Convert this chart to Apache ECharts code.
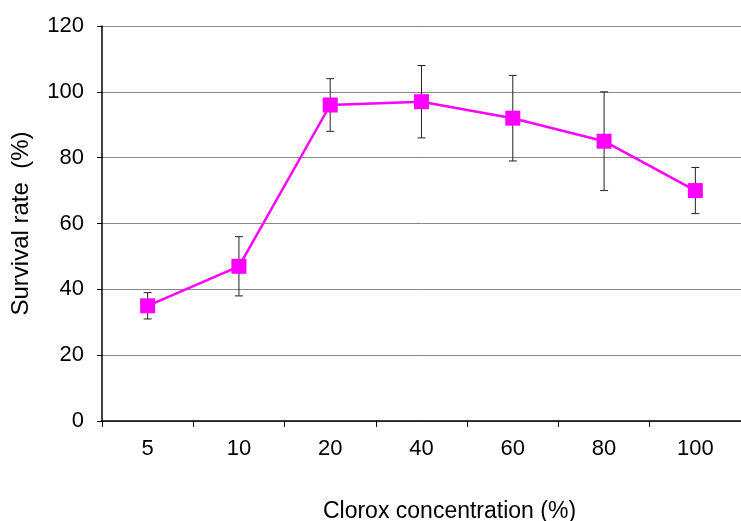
<!DOCTYPE html>
<html><head><meta charset="utf-8">
<script src="https://cdn.jsdelivr.net/npm/echarts@6/dist/echarts.min.js"></script>
<style>html,body{margin:0;padding:0;background:#fff}#c{width:741px;height:521px}</style>
</head><body><div id="c"></div>
<script>
var categories = ['5','10','20','40','60','80','100'];
var survival = [35, 47, 96, 97, 92, 85, 70];
var errors = [4, 9, 8, 11, 13, 15, 7];
var yTicks = [0, 20, 40, 60, 80, 100, 120];

var errData = categories.map(function(c, i){ return [i, survival[i] - errors[i], survival[i] + errors[i]]; });

var chart = echarts.init(document.getElementById('c'), null, {renderer:'canvas'});
chart.setOption({
  animation:false,
  backgroundColor:'#fff',
  textStyle:{fontFamily:'Liberation Sans, Arial, sans-serif'},
  grid:{left:102, right:0, top:26, bottom:100, containLabel:false, outerBoundsMode:'none'},
  xAxis:{
    type:'category', data:categories, boundaryGap:true,
    name:'Clorox concentration (%)', nameLocation:'middle', nameGap:79,
    nameTextStyle:{fontSize:23, color:'#000', fontFamily:'Liberation Sans', padding:[0,0,0,56]},
    axisLine:{lineStyle:{color:'#000', width:1.5}},
    axisTick:{show:true, length:6, lineStyle:{color:'#000'}},
    axisLabel:{fontSize:22, color:'#000', margin:17, fontFamily:'Liberation Sans'},
    splitLine:{show:false}
  },
  yAxis:{
    type:'value', min:0, max:120, interval:20,
    name:'Survival rate  (%)', nameLocation:'middle', nameGap:65,
    nameTextStyle:{fontSize:24, color:'#000', fontFamily:'Liberation Sans', padding:[0,0,4,0]},
    axisLine:{show:true, lineStyle:{color:'#000', width:1.5}},
    axisTick:{show:true, length:5, lineStyle:{color:'#000'}},
    axisLabel:{fontSize:22, color:'#000', margin:18, fontFamily:'Liberation Sans',
      formatter:function(v){ return yTicks.indexOf(v) >= 0 ? String(v) : ''; }},
    splitLine:{show:true, lineStyle:{color:'#888', width:1}}
  },
  series:[
    {
      type:'custom', z:1,
      data:errData,
      renderItem:function(params, api){
        var x = api.value(0);
        var lo = api.coord([x, api.value(1)]);
        var hi = api.coord([x, api.value(2)]);
        var cap = 4;
        var st = {stroke:'#222', lineWidth:1};
        return {type:'group', children:[
          {type:'line', shape:{x1:hi[0], y1:hi[1], x2:lo[0], y2:lo[1]}, style:st},
          {type:'line', shape:{x1:hi[0]-cap, y1:hi[1], x2:hi[0]+cap, y2:hi[1]}, style:st},
          {type:'line', shape:{x1:lo[0]-cap, y1:lo[1], x2:lo[0]+cap, y2:lo[1]}, style:st}
        ]};
      }
    },
    {
      type:'line', z:2, data:survival,
      symbol:'rect', symbolSize:15,
      lineStyle:{color:'#FF00FF', width:2.5},
      itemStyle:{color:'#FF00FF'}
    }
  ]
});
</script></body></html>
